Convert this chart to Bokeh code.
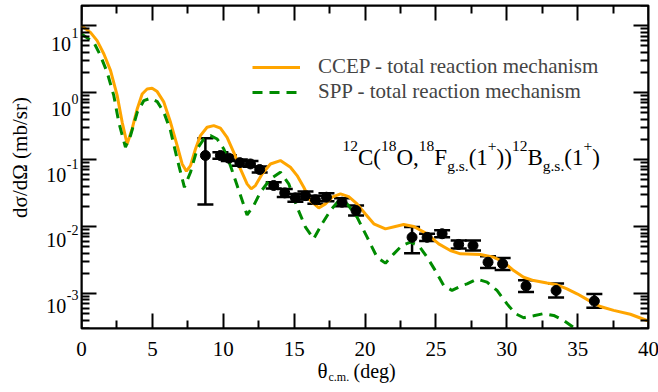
import math
from bokeh.plotting import figure
from bokeh.layouts import column, row
from bokeh.core.properties import value
from bokeh.models import (ColumnDataSource, FixedTicker, LinearAxis, LogAxis, Range1d,
                          Whisker, TeeHead, Label, Legend, LegendItem)
from bokeh.embed import file_html
from bokeh.resources import INLINE

# ---------------- data ----------------
theta_ccep = [0.0, 0.63, 1.1, 1.58, 2.05, 2.52, 2.87, 3.22, 3.57, 3.93, 4.28, 4.63, 4.98, 5.34,
              5.81, 6.28, 6.75, 7.1, 7.4, 7.69, 8.04, 8.39, 8.86, 9.33, 9.8, 10.27, 10.74,
              11.21, 11.68, 11.97, 12.27, 12.74, 13.33, 14.03, 14.74, 15.21, 15.68, 16.15,
              16.74, 17.21, 17.68, 18.27, 18.85, 19.44, 20.03, 20.62, 21.44, 22.14, 22.73,
              23.44, 24.38, 25.2, 26.02, 26.73, 28.14, 29.08, 29.78, 30.49, 31.19, 31.9,
              32.84, 33.55, 34.25, 34.96, 35.78, 36.6, 37.54, 38.72, 39.89, 40.0]
sigma_ccep = [10.0, 7.95, 5.97, 3.78, 2.13, 0.90, 0.36, 0.171, 0.287, 0.57, 0.955, 1.135, 1.16,
              1.035, 0.72, 0.36, 0.162, 0.086, 0.067, 0.081, 0.144, 0.228, 0.304, 0.321, 0.294,
              0.215, 0.128, 0.0726, 0.0434, 0.0365, 0.0409, 0.061, 0.086, 0.0966, 0.0769,
              0.0577, 0.0386, 0.0244, 0.019, 0.0218, 0.0274, 0.0308, 0.028, 0.0218, 0.0154,
              0.011, 0.00923, 0.0100, 0.0107, 0.0100, 0.00778, 0.0055, 0.00438, 0.00391,
              0.00382, 0.00348, 0.00294, 0.0022, 0.00175, 0.00156, 0.00143, 0.00135, 0.00117,
              0.00099, 0.00079, 0.00064, 0.00056, 0.00049, 0.000395, 0.00039]

theta_spp = [0.0, 0.87, 1.34, 1.81, 2.28, 2.63, 3.10, 3.46, 3.93, 4.40, 4.87, 5.34, 5.81, 6.28,
             6.75, 7.26, 7.69, 8.16, 8.63, 9.10, 9.57, 10.04, 10.51, 10.98, 11.68, 12.15,
             12.62, 13.33, 14.03, 14.62, 15.21, 15.8, 16.38, 16.97, 17.56, 18.15, 18.74,
             19.44, 20.15, 20.85, 21.44, 22.03, 22.61, 23.2, 23.79, 24.38, 24.96, 25.55,
             26.14, 26.85, 27.2, 27.9, 28.61, 29.31, 30.02, 30.61, 31.19, 31.9, 32.6, 33.31,
             34.02, 34.84, 35.5, 36.2]
sigma_spp = [7.5, 5.63, 3.56, 2.01, 0.90, 0.36, 0.153, 0.228, 0.508, 0.76, 0.823, 0.734, 0.508,
             0.271, 0.102, 0.0386, 0.0647, 0.144, 0.203, 0.228, 0.203, 0.144, 0.081, 0.0409,
             0.0149, 0.0206, 0.0325, 0.0514, 0.0647, 0.0434, 0.0195, 0.0098, 0.00655, 0.011,
             0.0173, 0.0244, 0.0218, 0.0138, 0.00693, 0.00348, 0.00284, 0.00391, 0.0052,
             0.00583, 0.0052, 0.00348, 0.0022, 0.00132, 0.00111, 0.00132, 0.00139, 0.00164,
             0.00148, 0.00111, 0.0007, 0.0005, 0.000434, 0.000465, 0.0005, 0.00047, 0.000395,
             0.000297, 0.00022, 0.00015]

theta_exp = [8.74, 9.80, 10.39, 11.17, 11.92, 12.57, 13.56, 14.34, 15.09, 15.8, 16.5, 17.28,
             18.38, 19.37, 23.32, 24.38, 25.44, 26.61, 27.62, 28.68, 29.71, 31.36, 33.48, 36.18]
sigma_exp = [0.115, 0.115, 0.105, 0.090, 0.086, 0.071, 0.041, 0.0318, 0.0268, 0.029, 0.0251,
             0.0274, 0.0231, 0.0173, 0.0069, 0.0069, 0.0078, 0.0054, 0.0052, 0.00293, 0.00277,
             0.00129, 0.00111, 0.00077]
sigma_exp_hi = [0.208, 0.129, 0.116, 0.100, 0.095, 0.079, 0.046, 0.0365, 0.0307, 0.0333, 0.0288,
                0.0314, 0.0265, 0.0206, 0.0098, 0.0078, 0.0088, 0.0062, 0.0062, 0.0036, 0.0034,
                0.00158, 0.00141, 0.00098]
sigma_exp_lo = [0.0213, 0.103, 0.095, 0.081, 0.078, 0.064, 0.037, 0.0277, 0.0234, 0.0253,
                0.0219, 0.0239, 0.0201, 0.0146, 0.0040, 0.0061, 0.0069, 0.0047, 0.0044, 0.0024,
                0.00225, 0.00105, 0.00087, 0.00061]

x_ticks = [0, 5, 10, 15, 20, 25, 30, 35, 40]
x_tick_labels = ["0", "5", "10", "15", "20", "25", "30", "35", "40"]
x_minor = [2.5, 7.5, 12.5, 17.5, 22.5, 27.5, 32.5, 37.5]
y_ticks = [1e-3, 1e-2, 1e-1, 1.0, 10.0]
y_tick_base = ["10", "10", "10", "10", "10"]
y_tick_exp = ["-3", "-2", "-1", "0", "1"]
y_minor = [k * 10.0 ** e for e in range(-4, 2) for k in range(2, 10) if 3e-4 <= k * 10.0 ** e <= 20]

legend_labels = ["CCEP - total reaction mechanism", "SPP - total reaction mechanism"]
y_label = "dσ/dΩ (mb/sr)"

FONT = "Liberation Serif"
ORANGE = "#FFA500"
GREEN = "#008B00"

# Times-metric glyph advance widths (em) used to lay out composed texts
W = {'1': .5, '2': .5, '3': .5, '0': .5, '8': .5, '-': .333, 'C': .667, '(': .333, ')': .333,
     'O': .722, ',': .25, 'F': .556, 'g': .5, '.': .25, 's': .389, '+': .564, 'B': .667}


def tw(txt, size):
    return sum(W[c] for c in txt) * size


# ---------------- geometry (canvas px) ----------------
W_TOT, H_TOT = 658, 392
FL, FR, FT, FB = 81, 648, 5, 328
LEFT_W = FL - 2                 # left strip width (tick labels + y title)
H_MAIN = FB + 2                 # height of the row holding the plot
X0, X1 = 0.0, 40.0
Y0, Y1 = 3e-4, 20.0

p = figure(frame_width=FR - FL, frame_height=FB - FT, y_axis_type="log",
           x_range=Range1d(X0, X1), y_range=Range1d(Y0, Y1),
           output_backend="svg", toolbar_location=None,
           min_border_left=FL - LEFT_W, min_border_right=W_TOT - FR, min_border_top=FT,
           min_border_bottom=H_MAIN - FB)
p.grid.visible = False
p.outline_line_color = "black"
p.outline_line_width = 2
p.background_fill_color = "white"
p.border_fill_color = "white"


def style_axis(ax, ticks, loc):
    ax.fixed_location = loc          # drawn on the frame edge, takes no border space
    ax.axis_line_width = 2
    ax.axis_line_color = "black"
    ax.major_tick_in = 15
    ax.major_tick_out = 0
    ax.minor_tick_in = 8
    ax.minor_tick_out = 0
    ax.major_tick_line_width = 2
    ax.minor_tick_line_width = 2
    ax.major_label_text_font_size = "0px"
    ax.major_label_standoff = 0
    ax.major_label_overrides = {t: "" for t in ticks}
    ax.axis_label = None


xt = FixedTicker(ticks=x_ticks, minor_ticks=x_minor)
yt = FixedTicker(ticks=y_ticks, minor_ticks=y_minor)

p.xaxis[0].ticker = xt
style_axis(p.xaxis[0], x_ticks, Y0)
p.yaxis[0].ticker = yt
style_axis(p.yaxis[0], y_ticks, X0)

top = LinearAxis(ticker=xt)
style_axis(top, x_ticks, Y1)
p.add_layout(top, "above")
right = LogAxis(ticker=yt)
style_axis(right, y_ticks, X1)
p.add_layout(right, "right")

# ---------------- curves ----------------
r_ccep = p.line(theta_ccep, sigma_ccep, line_color=ORANGE, line_width=3)
r_spp = p.line(theta_spp, sigma_spp, line_color=GREEN, line_width=3, line_dash="10 7")

src = ColumnDataSource(dict(x=theta_exp, y=sigma_exp, hi=sigma_exp_hi, lo=sigma_exp_lo))
wh = Whisker(base="x", upper="hi", lower="lo", source=src, line_color="black", line_width=2.5,
             upper_head=TeeHead(size=16, line_width=2.5, line_color="black"),
             lower_head=TeeHead(size=16, line_width=2.5, line_color="black"))
p.add_layout(wh)
p.scatter("x", "y", source=src, size=10, fill_color="black", line_color="black")

# ---------------- legend ----------------
legend = Legend(items=[LegendItem(label=legend_labels[0], renderers=[r_ccep]),
                       LegendItem(label=legend_labels[1], renderers=[r_spp])],
                location=(252 - FL, FB - 104), padding=0, margin=0, spacing=0,
                border_line_color=None, background_fill_alpha=0,
                label_text_font=FONT, label_text_font_size="21px",
                label_height=24, glyph_height=24, glyph_width=48, label_standoff=18)
p.add_layout(legend)


def lab(fig, text, sx, sy, size, angle=0.0, align="left", baseline="alphabetic"):
    fig.add_layout(Label(x=sx, y=sy, x_units="screen", y_units="screen", text=text,
                         text_font=FONT, text_font_size=f"{size}px", text_color="black",
                         angle=angle, text_align=align, text_baseline=baseline))


# reaction annotation with super/subscripts (positions relative to the plot frame)
pieces = [("12", "sup"), ("C(", "main"), ("18", "sup"), ("O,", "main"), ("18", "sup"),
          ("F", "main"), ("g.s.", "sub"), ("(1", "main"), ("+", "sup"), ("))", "main"),
          ("12", "sup"), ("B", "main"), ("g.s.", "sub"), ("(1", "main"), ("+", "sup"),
          (")", "main")]
S_MAIN, S_SCR = 23, 15.5
base_y = {"main": 157, "sup": 145, "sub": 165}
cx = 342.0
for txt, kind in pieces:
    size = S_MAIN if kind == "main" else S_SCR
    lab(p, txt, cx - FL, FB - base_y[kind], size)
    cx += tw(txt, size)

# ---------------- left strip: y tick labels and y title ----------------
ppdec = (FB - FT) / (math.log10(Y1) - math.log10(Y0))
pl = figure(width=LEFT_W, height=H_MAIN, y_axis_type="log",
            x_range=Range1d(0, LEFT_W),
            y_range=Range1d(10 ** (math.log10(Y0) - (H_MAIN - FB) / ppdec),
                            10 ** (math.log10(Y1) + FT / ppdec)),
            output_backend="svg", toolbar_location=None, min_border=0,
            x_axis_location=None, y_axis_location=None)
pl.grid.visible = False
pl.outline_line_color = None
pl.border_fill_color = "white"

R_EDGE = 78
S_TICK, S_EXP = 20, 14
exp_left = [R_EDGE - tw(e, S_EXP) for e in y_tick_exp]
base_right = [x - 0.5 for x in exp_left]
pl.text(x=base_right, y=y_ticks, text=y_tick_base, text_font=value(FONT),
        text_font_size=value(f"{S_TICK}px"), text_color="black", text_align="right",
        text_baseline="alphabetic", y_offset=13.5)
pl.text(x=exp_left, y=y_ticks, text=y_tick_exp, text_font=value(FONT),
        text_font_size=value(f"{S_EXP}px"), text_color="black", text_align="left",
        text_baseline="alphabetic", y_offset=3)
lab(pl, y_label, 19, H_MAIN - 159, 21, angle=math.pi / 2, align="center", baseline="middle")

# ---------------- bottom strip: x tick labels and x title ----------------
ppd = (FR - FL) / (X1 - X0)
p2 = figure(width=W_TOT, height=H_TOT - H_MAIN,
            x_range=Range1d(X0 - FL / ppd, X0 + (W_TOT - FL) / ppd),
            y_range=Range1d(H_TOT, H_MAIN), output_backend="svg", toolbar_location=None,
            min_border=0, x_axis_location=None, y_axis_location=None)
p2.grid.visible = False
p2.outline_line_color = None
p2.border_fill_color = "white"
p2.text(x=x_ticks, y=[348] * len(x_ticks), text=x_tick_labels, text_font=value(FONT),
        text_font_size=value("21px"), text_color="black", text_align="center",
        text_baseline="alphabetic")

lab(p2, "θ", 317, H_TOT - 370, 21)
lab(p2, "c.m.", 328, H_TOT - 376, 12)
lab(p2, "(deg)", 353, H_TOT - 370, 20)

layout = column(row(pl, p, spacing=0), p2, spacing=0)
open("out.html", "w").write(file_html(layout, INLINE))
